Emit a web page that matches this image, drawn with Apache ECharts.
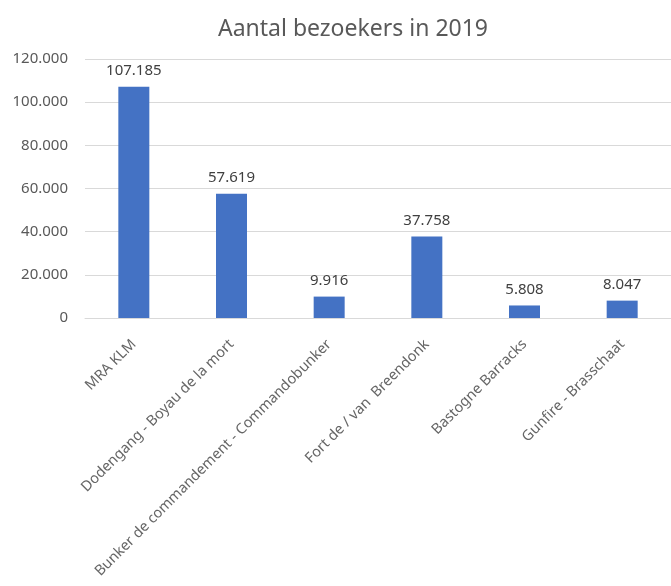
<!DOCTYPE html>
<html>
<head>
<meta charset="utf-8">
<script src="https://cdn.jsdelivr.net/npm/echarts@6/dist/echarts.min.js"></script>
<style>
  html, body { margin: 0; padding: 0; background: #fff; }
  #chart { width: 671px; height: 586px; }
</style>
</head>
<body>
<div id="chart"></div>
<script>
var categories = ['MRA KLM', 'Dodengang - Boyau de la mort', 'Bunker de commandement - Commandobunker',
                  'Fort de / van  Breendonk', 'Bastogne Barracks', 'Gunfire - Brasschaat'];
var visitors = [107185, 57619, 9916, 37758, 5808, 8047];
var yTicks = [0, 20000, 40000, 60000, 80000, 100000, 120000];

// punt als duizendtalscheiding
function fmt(v) {
    return String(v).replace(/\B(?=(\d{3})+(?!\d))/g, '.');
}

var myChart = echarts.init(document.getElementById('chart'));
var font = '"Noto Sans", sans-serif';

var option = {
    animation: false,
    title: {
        text: 'Aantal bezoekers in 2019',
        left: 348,
        textAlign: 'center',
        top: 13,
        textStyle: { fontFamily: font, fontSize: 23, fontWeight: 'normal', color: '#595959' }
    },
    grid: { left: 85, width: 594, top: 59, bottom: 268 },
    xAxis: {
        type: 'category',
        data: categories,
        axisLine: { lineStyle: { color: '#d9d9d9' } },
        axisTick: { show: false },
        axisLabel: {
            rotate: 45, interval: 0, margin: 24,
            fontFamily: font, fontSize: 14.5, color: '#666666'
        }
    },
    yAxis: {
        type: 'value',
        min: yTicks[0],
        max: yTicks[yTicks.length - 1],
        interval: yTicks[1] - yTicks[0],
        axisLine: { show: false },
        axisTick: { show: false },
        splitLine: { lineStyle: { color: '#d9d9d9' } },
        axisLabel: {
            margin: 17, fontFamily: font, fontSize: 15, color: '#595959',
            formatter: function (v) { return fmt(v); }
        }
    },
    series: [{
        type: 'bar',
        data: visitors,
        barWidth: 31,
        itemStyle: { color: '#4472c4' },
        label: {
            show: true, position: 'top', distance: 8,
            fontFamily: font, fontSize: 15, color: '#404040',
            formatter: function (p) { return fmt(p.value); }
        }
    }]
};

myChart.setOption(option);
</script>
</body>
</html>
